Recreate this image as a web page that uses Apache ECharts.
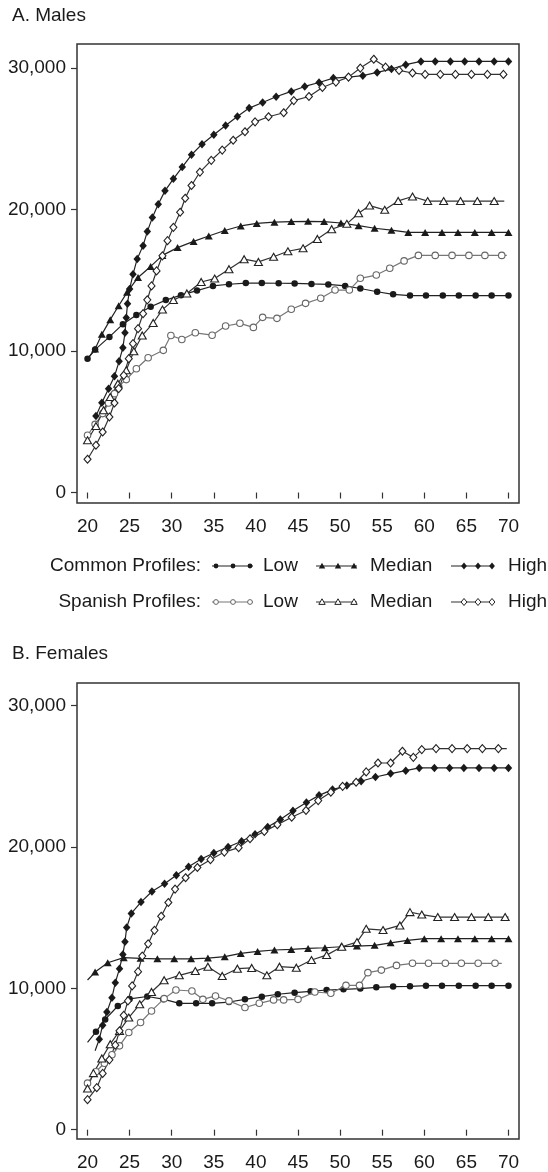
<!DOCTYPE html>
<html>
<head>
<meta charset="utf-8">
<title>Earnings profiles by age</title>
<script src="https://cdn.jsdelivr.net/npm/echarts@6/dist/echarts.min.js"></script>
<style>
  html, body { margin: 0; padding: 0; background: #fff; }
  #chart { width: 548px; height: 1172px; }
</style>
</head>
<body>
<div id="chart"></div>
<script>
// Age (years) and annual earnings for each profile.
const ageTicks = [20, 25, 30, 35, 40, 45, 50, 55, 60, 65, 70];
const earningsTicks = [0, 10000, 20000, 30000];

const maleCommonLow = [
  [20.0, 9450], [20.9, 10100], [22.6, 11000], [24.2, 11900], [25.8, 12550], [27.5, 13130],
  [29.3, 13600], [31.1, 13950], [33.0, 14270], [34.9, 14600], [36.8, 14720], [38.8, 14800],
  [40.7, 14800], [42.7, 14790], [44.6, 14780], [46.6, 14740], [48.6, 14710], [50.6, 14600],
  [52.4, 14420], [54.4, 14190], [56.3, 14010], [58.3, 13920], [60.2, 13920], [62.2, 13920],
  [64.1, 13920], [66.1, 13920], [68.0, 13920], [70.0, 13920]
];
const maleCommonMedian = [
  [20.0, 9450], [20.9, 10150], [21.7, 11180], [22.7, 12220], [23.7, 13200], [24.7, 14150],
  [26.0, 15200], [27.5, 15980], [28.9, 16760], [30.7, 17310], [32.6, 17750], [34.4, 18130],
  [36.3, 18520], [38.2, 18840], [40.1, 19020], [42.2, 19110], [44.2, 19150], [46.2, 19170],
  [48.1, 19150], [50.1, 19050], [52.2, 18860], [54.1, 18680], [56.1, 18540], [58.1, 18380],
  [60.1, 18380], [62.1, 18380], [64.0, 18380], [66.0, 18380], [68.0, 18380], [70.0, 18380]
];
const maleCommonHigh = [
  [21.0, 5400], [21.7, 6350], [22.5, 7340], [23.2, 8210], [23.75, 9270], [24.2, 10240],
  [24.45, 11290], [24.6, 12350], [24.75, 13350], [25.0, 14380], [25.4, 15420], [25.9, 16510],
  [26.6, 17450], [27.1, 18440], [27.7, 19430], [28.4, 20380], [29.2, 21320], [30.2, 22170],
  [31.25, 23000], [32.35, 23870], [33.6, 24620], [35.0, 25280], [36.4, 25940], [37.8, 26580],
  [39.2, 27170], [40.8, 27570], [42.4, 27970], [44.2, 28350], [45.8, 28700], [47.5, 28980],
  [49.2, 29290], [51.0, 29360], [52.7, 29460], [54.4, 29690], [56.1, 29930], [57.8, 30240],
  [59.6, 30470], [61.3, 30470], [63.1, 30470], [64.8, 30470], [66.5, 30470], [68.3, 30470],
  [70.0, 30470]
];
const maleSpanishLow = [
  [20.0, 4050], [20.9, 4820], [21.8, 5580], [22.5, 6330], [23.2, 6990], [23.7, 7500],
  [24.6, 7980], [25.8, 8750], [27.2, 9530], [29.0, 10050], [29.9, 11100], [31.2, 10820],
  [32.8, 11290], [34.8, 11120], [36.4, 11770], [38.1, 11960], [39.7, 11670], [40.8, 12380],
  [42.5, 12310], [44.2, 12950], [45.9, 13370], [47.7, 13730], [49.4, 14310], [51.1, 14310],
  [52.4, 15140], [54.3, 15370], [55.9, 15850], [57.6, 16370], [59.3, 16760], [61.3, 16760],
  [63.3, 16760], [65.3, 16760], [67.2, 16760], [69.2, 16760], [69.8, 16760]
];
const maleSpanishMedian = [
  [20.0, 3690], [21.0, 4700], [21.9, 5810], [22.7, 6750], [23.6, 7690], [24.6, 8640],
  [25.5, 9980], [26.5, 11100], [27.8, 11980], [28.9, 12930], [30.2, 13600], [31.8, 14070],
  [33.5, 14880], [35.1, 15120], [36.8, 15780], [38.6, 16490], [40.3, 16300], [42.1, 16660],
  [43.8, 17050], [45.6, 17260], [47.3, 17920], [49.0, 18610], [50.8, 18990], [52.2, 19740],
  [53.5, 20280], [55.3, 19980], [56.9, 20610], [58.6, 20920], [60.4, 20600], [62.3, 20600],
  [64.3, 20600], [66.3, 20600], [68.3, 20600], [69.5, 20600]
];
const maleSpanishHigh = [
  [20.0, 2350], [21.0, 3340], [21.8, 4280], [22.6, 5340], [23.2, 6330], [23.7, 7340],
  [24.3, 8280], [24.9, 9460], [25.4, 10520], [26.0, 11580], [26.6, 12640], [27.1, 13620],
  [27.6, 14600], [28.2, 15660], [28.9, 16730], [29.5, 17800], [30.2, 18740], [31.0, 19810],
  [31.6, 20800], [32.35, 21700], [33.35, 22650], [34.7, 23480], [36.0, 24200], [37.3, 24900],
  [38.7, 25500], [39.9, 26200], [41.5, 26560], [43.3, 26840], [44.5, 27700], [46.3, 27990],
  [47.9, 28630], [49.5, 29010], [51.0, 29360], [52.4, 30000], [54.0, 30620], [55.4, 30070],
  [57.0, 29830], [58.6, 29650], [60.1, 29550], [61.9, 29550], [63.7, 29550], [65.6, 29550],
  [67.5, 29550], [69.4, 29550], [69.8, 29550]
];

const femaleCommonLow = [
  [20.0, 6170], [21.0, 6920], [22.1, 7800], [23.6, 8750], [25.0, 9250], [27.1, 9420],
  [29.0, 9230], [30.9, 8940], [32.9, 8940], [34.8, 8940], [36.8, 9030], [38.7, 9220],
  [40.7, 9410], [42.6, 9580], [44.6, 9690], [46.5, 9790], [48.4, 9880], [50.4, 9930],
  [52.4, 9980], [54.3, 10070], [56.3, 10120], [58.3, 10140], [60.2, 10190], [62.1, 10190],
  [64.1, 10190], [66.1, 10190], [68.0, 10190], [70.0, 10190]
];
const femaleCommonMedian = [
  [20.0, 10590], [20.9, 11150], [22.4, 11810], [24.3, 12170], [26.3, 12120], [28.3, 12090],
  [30.3, 12090], [32.3, 12090], [34.3, 12140], [36.3, 12240], [38.2, 12470], [40.2, 12610],
  [42.2, 12710], [44.2, 12750], [46.2, 12820], [48.2, 12870], [50.1, 12940], [52.0, 12990],
  [54.1, 13040], [56.0, 13220], [58.0, 13390], [60.0, 13510], [62.0, 13510], [64.0, 13510],
  [66.0, 13510], [68.0, 13510], [70.0, 13510]
];
const femaleCommonHigh = [
  [20.9, 5580], [21.4, 6400], [21.8, 7390], [22.3, 8330], [22.9, 9340], [23.3, 10400],
  [23.8, 11390], [24.2, 12400], [24.45, 13300], [24.65, 14300], [25.2, 15300], [26.35, 16100],
  [27.65, 16850], [29.15, 17400], [30.55, 18000], [32.0, 18600], [33.5, 19150], [35.0, 19570],
  [36.7, 20000], [38.3, 20400], [39.9, 20900], [41.4, 21420], [42.9, 21950], [44.4, 22570],
  [46.0, 23150], [47.5, 23650], [49.1, 24060], [50.8, 24340], [52.5, 24650], [54.2, 24950],
  [56.0, 25190], [57.8, 25400], [59.4, 25590], [61.2, 25590], [63.0, 25590], [64.7, 25590],
  [66.5, 25590], [68.3, 25590], [70.0, 25590]
];
const femaleSpanishLow = [
  [20.0, 3290], [21.0, 4100], [22.0, 4700], [22.9, 5300], [23.8, 5930], [24.9, 6870],
  [26.3, 7580], [27.6, 8400], [29.1, 9270], [30.5, 9880], [32.4, 9810], [33.7, 9220],
  [35.2, 9460], [36.8, 9110], [38.7, 8640], [40.4, 8940], [42.1, 9180], [43.3, 9180],
  [45.0, 9220], [47.0, 9740], [48.9, 9650], [50.7, 10210], [52.3, 10210], [53.3, 11110],
  [54.9, 11290], [56.7, 11620], [58.6, 11770], [60.5, 11770], [62.5, 11770], [64.4, 11770],
  [66.4, 11770], [68.4, 11770], [69.2, 11770]
];
const femaleSpanishMedian = [
  [20.0, 2920], [20.7, 4000], [21.7, 5040], [22.7, 6050], [23.8, 6990], [24.9, 7930],
  [26.2, 8870], [27.6, 9740], [29.1, 10570], [30.9, 10920], [32.8, 11220], [34.3, 11530],
  [36.0, 10870], [37.8, 11390], [39.5, 11440], [41.3, 10920], [42.8, 11530], [44.8, 11460],
  [46.6, 12000], [48.4, 12350], [50.2, 12940], [52.0, 13270], [53.1, 14210], [55.1, 14120],
  [57.1, 14450], [58.3, 15390], [59.7, 15220], [61.6, 15040], [63.6, 15040], [65.6, 15040],
  [67.6, 15040], [69.6, 15040], [70.0, 15040]
];
const femaleSpanishHigh = [
  [20.0, 2120], [21.1, 2970], [21.8, 3980], [22.6, 4940], [23.3, 5980], [23.8, 6990],
  [24.3, 8090], [24.8, 9110], [25.3, 10170], [26.0, 11180], [26.5, 12280], [27.2, 13150],
  [27.95, 14100], [28.75, 15100], [29.6, 16070], [30.4, 17020], [31.65, 17820], [33.05, 18550],
  [34.6, 19100], [36.25, 19640], [37.95, 19950], [39.3, 20580], [41.0, 21100], [42.55, 21580],
  [44.25, 22100], [45.95, 22580], [47.4, 23280], [48.9, 23870], [50.3, 24290], [51.9, 24580],
  [53.1, 25310], [54.5, 25940], [56.0, 25940], [57.4, 26770], [58.7, 26340], [59.7, 26890],
  [61.4, 26960], [63.3, 26960], [65.1, 26960], [66.9, 26960], [68.8, 26960], [69.8, 26960]
];

const FONT = '"Liberation Sans", Arial, Helvetica, sans-serif';
const INK = '#1a1a1a';

// Marker looks for the six profiles (plot size, key size).
const looks = {
  commonLow:     { symbol: 'circle',   size: 6.5,        key: 2.4, fill: INK,    stroke: INK,    line: '#222' },
  commonMedian:  { symbol: 'triangle', size: [8, 7],     key: 3.2, fill: INK,    stroke: INK,    line: '#222' },
  commonHigh:    { symbol: 'diamond',  size: [7.5, 8.5], key: 3.2, fill: INK,    stroke: INK,    line: '#222' },
  spanishLow:    { symbol: 'circle',   size: 6.5,        key: 2.4, fill: '#fff', stroke: '#666', line: '#777' },
  spanishMedian: { symbol: 'triangle', size: [8, 7],     key: 3.2, fill: '#fff', stroke: '#222', line: '#333' },
  spanishHigh:   { symbol: 'diamond',  size: [7, 8],     key: 3.2, fill: '#fff', stroke: '#222', line: '#333' }
};

// bare: which ends of the curve carry no marker
function profile(name, pts, look, gridIdx, bare) {
  bare = bare || {};
  const data = pts.map((p, i) => {
    const last = i === pts.length - 1;
    if ((i === 0 && bare.start) || (last && bare.end)) {
      return { value: p, symbol: 'none' };
    }
    return { value: p };
  });
  return {
    name: name,
    type: 'line',
    xAxisIndex: gridIdx,
    yAxisIndex: gridIdx,
    data: data,
    symbol: look.symbol,
    symbolSize: look.size,
    showSymbol: true,
    showAllSymbol: true,
    lineStyle: { color: look.line, width: 1.2 },
    itemStyle: { color: look.fill, borderColor: look.stroke, borderWidth: look.fill === '#fff' ? 1.1 : 0 },
    emphasis: { disabled: true },
    silent: true,
    z: look.fill === '#fff' ? 3 : 2
  };
}

const fmt = v => String(v).replace(/\B(?=(\d{3})+(?!\d))/g, ',');

function xAxis(gridIdx) {
  return {
    type: 'value', gridIndex: gridIdx, min: 18.75, max: 71.25,
    axisLine: { show: false },
    splitLine: { show: false },
    axisTick: { show: true, length: 6, customValues: ageTicks, lineStyle: { color: '#333', width: 1.2 } },
    axisLabel: { customValues: ageTicks, margin: 14, fontSize: 19, color: INK, fontFamily: FONT }
  };
}
function yAxis(gridIdx, min, max) {
  return {
    type: 'value', gridIndex: gridIdx, min: min, max: max,
    axisLine: { show: false },
    splitLine: { show: false },
    axisTick: { show: true, length: 6, customValues: earningsTicks, lineStyle: { color: '#333', width: 1.2 } },
    axisLabel: { customValues: earningsTicks, margin: 11, fontSize: 19, color: INK, fontFamily: FONT, formatter: fmt }
  };
}

// Key rows: a short run of three markers joined by a line, then its label.
function keyShape(look, x, y) {
  const k = look.key;
  const style = { fill: look.fill, stroke: look.stroke, lineWidth: look.fill === '#fff' ? 1 : 0 };
  if (look.symbol === 'circle') {
    return { type: 'circle', shape: { cx: x, cy: y, r: k }, style: style, z: 10 };
  }
  if (look.symbol === 'triangle') {
    return { type: 'polygon', shape: { points: [[x, y - k], [x + k, y + k * 0.75], [x - k, y + k * 0.75]] }, style: style, z: 10 };
  }
  return { type: 'polygon', shape: { points: [[x, y - k * 1.1], [x + k * 0.9, y], [x, y + k * 1.1], [x - k * 0.9, y]] }, style: style, z: 10 };
}
function keyRow(y, heading, lookSet) {
  const els = [{
    type: 'text', x: 201, y: y,
    style: { text: heading, font: '19px ' + FONT, fill: INK, textAlign: 'right', textVerticalAlign: 'middle' }
  }];
  const slots = [
    { label: 'Low',    x1: 212, x2: 253, marks: [216, 233, 250], tx: 263 },
    { label: 'Median', x1: 316, x2: 357, marks: [322, 338, 354], tx: 370 },
    { label: 'High',   x1: 451, x2: 493, marks: [464, 478, 492], tx: 508 }
  ];
  slots.forEach((s, i) => {
    const look = lookSet[i];
    els.push({ type: 'line', shape: { x1: s.x1, y1: y, x2: s.x2, y2: y }, style: { stroke: look.line, lineWidth: 1.1 }, z: 9 });
    s.marks.forEach(mx => els.push(keyShape(look, mx, y)));
    els.push({
      type: 'text', x: s.tx, y: y,
      style: { text: s.label, font: '19px ' + FONT, fill: INK, textAlign: 'left', textVerticalAlign: 'middle' }
    });
  });
  return els;
}

const chart = echarts.init(document.getElementById('chart'), null, { renderer: 'canvas' });
chart.setOption({
  animation: false,
  backgroundColor: '#fff',
  textStyle: { fontFamily: FONT },
  title: [
    { text: 'A. Males', left: 7, top: 1, textStyle: { fontSize: 19, fontWeight: 'normal', color: INK, fontFamily: FONT } },
    { text: 'B. Females', left: 7, top: 639, textStyle: { fontSize: 19, fontWeight: 'normal', color: INK, fontFamily: FONT } }
  ],
  grid: [
    { left: 77, top: 44, width: 442, height: 459, show: true, borderColor: '#333', borderWidth: 1.5, backgroundColor: 'transparent' },
    { left: 77, top: 683, width: 442, height: 457, show: true, borderColor: '#333', borderWidth: 1.5, backgroundColor: 'transparent' }
  ],
  xAxis: [xAxis(0), xAxis(1)],
  yAxis: [yAxis(0, -740, 31700), yAxis(1, -660, 31600)],
  graphic: [].concat(
    keyRow(566, 'Common Profiles:', [looks.commonLow, looks.commonMedian, looks.commonHigh]),
    keyRow(602, 'Spanish Profiles:', [looks.spanishLow, looks.spanishMedian, looks.spanishHigh])
  ),
  series: [
    profile('Common Low', maleCommonLow, looks.commonLow, 0),
    profile('Common Median', maleCommonMedian, looks.commonMedian, 0, { start: true }),
    profile('Common High', maleCommonHigh, looks.commonHigh, 0),
    profile('Spanish Low', maleSpanishLow, looks.spanishLow, 0, { end: true }),
    profile('Spanish Median', maleSpanishMedian, looks.spanishMedian, 0, { end: true }),
    profile('Spanish High', maleSpanishHigh, looks.spanishHigh, 0, { end: true }),
    profile('Common Low', femaleCommonLow, looks.commonLow, 1, { start: true }),
    profile('Common Median', femaleCommonMedian, looks.commonMedian, 1, { start: true }),
    profile('Common High', femaleCommonHigh, looks.commonHigh, 1, { start: true }),
    profile('Spanish Low', femaleSpanishLow, looks.spanishLow, 1, { end: true }),
    profile('Spanish Median', femaleSpanishMedian, looks.spanishMedian, 1, { end: true }),
    profile('Spanish High', femaleSpanishHigh, looks.spanishHigh, 1, { end: true })
  ]
});
</script>
</body>
</html>
